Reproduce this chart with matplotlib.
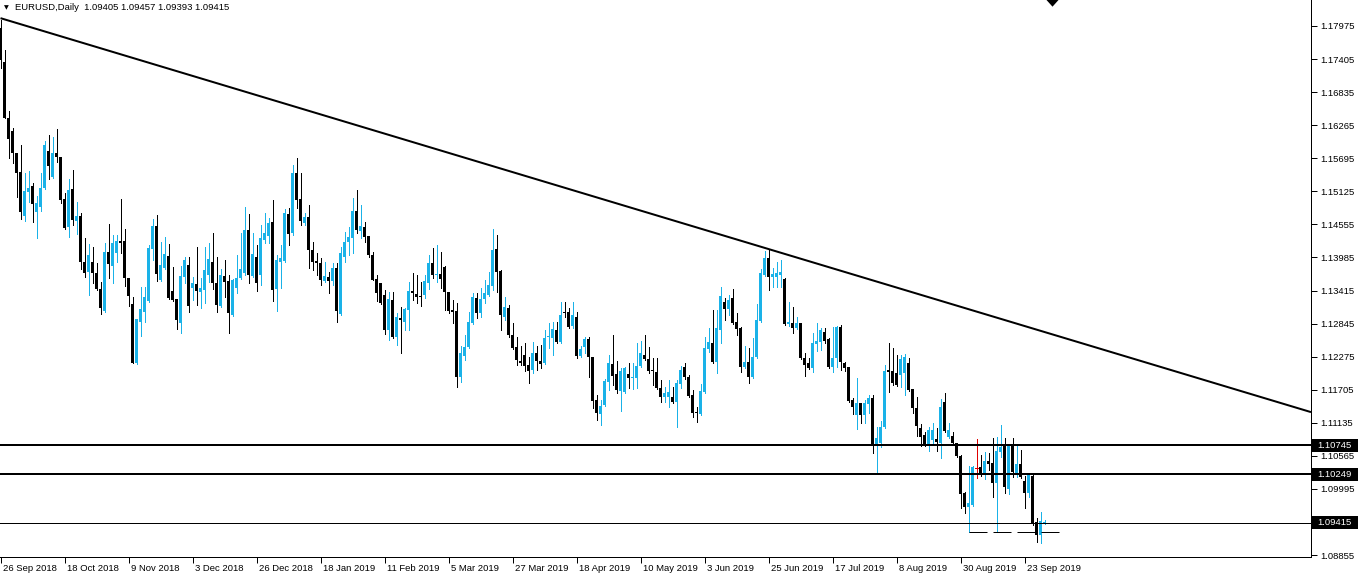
import numpy as np
import matplotlib
matplotlib.use("Agg")
import matplotlib.pyplot as plt
from matplotlib.patches import Rectangle, Polygon
import matplotlib.transforms as mtrans

# ---------------- data ----------------
symbol_title = "EURUSD,Daily"
last_ohlc = ["1.09405", "1.09457", "1.09393", "1.09415"]

opens = [
 1.1794,1.1736,1.1639,1.1616,1.1579,1.1546,1.1470,1.1511,1.1522,1.1477,
 1.1485,1.1518,1.1582,1.1537,1.1579,1.1572,1.1499,1.1451,1.1517,1.1461,
 1.1470,1.1391,1.1373,1.1391,1.1372,1.1344,1.1306,1.1408,1.1384,1.1406,
 1.1427,1.1427,1.1363,1.1318,1.1217,1.1287,1.1305,1.1323,1.1413,1.1453,
 1.1360,1.1380,1.1401,1.1341,1.1327,1.1285,1.1365,1.1385,1.1346,1.1352,
 1.1339,1.1342,1.1368,1.1391,1.1354,1.1315,1.1367,1.1358,1.1299,1.1346,
 1.1363,1.1372,1.1446,1.1367,1.1399,1.1368,1.1429,1.1435,1.1460,1.1344,
 1.1391,1.1392,1.1474,1.1440,1.1544,1.1499,1.1458,1.1468,1.1411,1.1392,
 1.1389,1.1358,1.1365,1.1358,1.1380,1.1301,1.1399,1.1425,1.1432,1.1479,
 1.1444,1.1451,1.1435,1.1403,1.1361,1.1354,1.1334,1.1273,1.1325,1.1261,
 1.1294,1.1287,1.1308,1.1341,1.1335,1.1332,1.1334,1.1354,1.1389,1.1368,
 1.1370,1.1382,1.1339,1.1308,1.1306,1.1192,1.1229,1.1244,1.1285,1.1328,
 1.1303,1.1327,1.1334,1.1349,1.1413,1.1375,1.1296,1.1311,1.1264,1.1244,
 1.1220,1.1230,1.1213,1.1204,1.1234,1.1220,1.1217,1.1261,1.1259,1.1273,
 1.1253,1.1305,1.1305,1.1280,1.1296,1.1229,1.1244,1.1258,1.1227,1.1153,
 1.1129,1.1144,1.1184,1.1215,1.1197,1.1168,1.1167,1.1197,1.1191,1.1191,
 1.1211,1.1230,1.1223,1.1204,1.1201,1.1173,1.1158,1.1158,1.1158,1.1149,
 1.1180,1.1210,1.1192,1.1161,1.1132,1.1129,1.1167,1.1241,1.1251,1.1218,
 1.1273,1.1322,1.1310,1.1329,1.1287,1.1277,1.1210,1.1218,1.1192,1.1227,
 1.1289,1.1368,1.1397,1.1365,1.1365,1.1369,1.1361,1.1284,1.1285,1.1277,
 1.1285,1.1225,1.1217,1.1208,1.1249,1.1253,1.1270,1.1258,1.1210,1.1225,
 1.1278,1.1217,1.1209,1.1153,1.1127,1.1147,1.1127,1.1146,1.1156,1.1075,
 1.1079,1.1106,1.1204,1.1203,1.1199,1.1196,1.1199,1.1217,1.1171,1.1139,
 1.1104,1.1092,1.1077,1.1084,1.1085,1.1079,1.1149,1.1089,1.1091,1.1078,
 1.1057,1.0992,1.0968,1.0972,1.1035,1.1037,1.1027,1.1048,1.1044,1.1010,
 1.1063,1.1073,1.0999,1.1073,1.1027,1.1042,1.1013,1.0992,1.1022,1.0942,
 1.0920,1.09405]

highs = [
 1.1808,1.1756,1.1651,1.1622,1.1579,1.1592,1.1544,1.1548,1.1527,1.1504,
 1.1544,1.1599,1.1610,1.1606,1.1620,1.1572,1.1510,1.1534,1.1549,1.1494,
 1.1475,1.1432,1.1422,1.1416,1.1389,1.1356,1.1423,1.1456,1.1437,1.1437,
 1.1499,1.1448,1.1363,1.1330,1.1293,1.1348,1.1348,1.1420,1.1465,1.1472,
 1.1425,1.1434,1.1422,1.1382,1.1327,1.1384,1.1399,1.1399,1.1365,1.1416,
 1.1363,1.1416,1.1423,1.1441,1.1399,1.1379,1.1394,1.1368,1.1361,1.1403,
 1.1440,1.1485,1.1474,1.1440,1.1420,1.1454,1.1475,1.1467,1.1498,1.1403,
 1.1420,1.1482,1.1484,1.1558,1.1570,1.1544,1.1475,1.1489,1.1425,1.1406,
 1.1397,1.1391,1.1373,1.1389,1.1389,1.1416,1.1442,1.1451,1.1501,1.1515,
 1.1489,1.1460,1.1435,1.1408,1.1368,1.1354,1.1342,1.1339,1.1339,1.1303,
 1.1313,1.1311,1.1356,1.1372,1.1368,1.1356,1.1368,1.1403,1.1415,1.1420,
 1.1408,1.1384,1.1339,1.1325,1.1320,1.1246,1.1264,1.1305,1.1337,1.1337,
 1.1346,1.1360,1.1373,1.1448,1.1437,1.1377,1.1330,1.1317,1.1285,1.1261,
 1.1246,1.1251,1.1227,1.1253,1.1246,1.1247,1.1273,1.1285,1.1287,1.1287,
 1.1322,1.1322,1.1311,1.1322,1.1305,1.1246,1.1261,1.1261,1.1227,1.1161,
 1.1153,1.1189,1.1230,1.1264,1.1220,1.1208,1.1210,1.1217,1.1217,1.1251,
 1.1254,1.1264,1.1244,1.1225,1.1225,1.1187,1.1175,1.1187,1.1175,1.1187,
 1.1211,1.1217,1.1196,1.1170,1.1141,1.1180,1.1261,1.1277,1.1308,1.1308,
 1.1348,1.1329,1.1334,1.1344,1.1303,1.1279,1.1246,1.1242,1.1259,1.1318,
 1.1379,1.1410,1.1411,1.1380,1.1391,1.1394,1.1363,1.1322,1.1313,1.1296,
 1.1285,1.1234,1.1225,1.1268,1.1285,1.1277,1.1277,1.1259,1.1278,1.1280,
 1.1282,1.1218,1.1210,1.1156,1.1191,1.1148,1.1153,1.1161,1.1161,1.1106,
 1.1116,1.1213,1.1251,1.1242,1.1230,1.1230,1.1232,1.1225,1.1172,1.1158,
 1.1111,1.1097,1.1106,1.1113,1.1104,1.1155,1.1165,1.1113,1.1098,1.1079,
 1.1058,1.0994,1.1039,1.1039,1.1085,1.1058,1.1063,1.1061,1.1087,1.1089,
 1.1110,1.1087,1.1076,1.1087,1.1075,1.1067,1.1022,1.1027,1.1023,1.0949,
 1.0960,1.09457]

lows = [
 1.1725,1.1639,1.1570,1.1561,1.1503,1.1465,1.1461,1.1494,1.1460,1.1432,
 1.1479,1.1517,1.1534,1.1535,1.1563,1.1492,1.1448,1.1434,1.1454,1.1439,
 1.1379,1.1365,1.1334,1.1354,1.1342,1.1301,1.1305,1.1363,1.1354,1.1391,
 1.1406,1.1349,1.1315,1.1216,1.1215,1.1263,1.1287,1.1322,1.1394,1.1358,
 1.1358,1.1379,1.1327,1.1324,1.1275,1.1269,1.1354,1.1305,1.1325,1.1317,
 1.1311,1.1320,1.1356,1.1344,1.1305,1.1313,1.1330,1.1269,1.1298,1.1337,
 1.1362,1.1368,1.1354,1.1365,1.1341,1.1351,1.1423,1.1423,1.1323,1.1306,
 1.1346,1.1391,1.1420,1.1437,1.1484,1.1454,1.1454,1.1380,1.1377,1.1368,
 1.1351,1.1356,1.1337,1.1351,1.1287,1.1299,1.1391,1.1403,1.1406,1.1440,
 1.1432,1.1425,1.1399,1.1359,1.1323,1.1319,1.1266,1.1256,1.1259,1.1247,
 1.1234,1.1273,1.1273,1.1325,1.1320,1.1315,1.1328,1.1344,1.1363,1.1356,
 1.1346,1.1308,1.1303,1.1285,1.1175,1.1184,1.1222,1.1243,1.1284,1.1294,
 1.1296,1.1320,1.1332,1.1342,1.1339,1.1273,1.1291,1.1261,1.1241,1.1213,
 1.1213,1.1203,1.1182,1.1199,1.1204,1.1208,1.1215,1.1243,1.1230,1.1251,
 1.1251,1.1296,1.1277,1.1277,1.1225,1.1227,1.1234,1.1192,1.1139,1.1118,
 1.1110,1.1143,1.1170,1.1179,1.1165,1.1134,1.1165,1.1173,1.1172,1.1173,
 1.1210,1.1222,1.1199,1.1179,1.1172,1.1149,1.1149,1.1141,1.1148,1.1106,
 1.1173,1.1189,1.1158,1.1123,1.1115,1.1127,1.1165,1.1235,1.1217,1.1199,
 1.1251,1.1291,1.1299,1.1284,1.1264,1.1201,1.1208,1.1182,1.1191,1.1226,
 1.1287,1.1367,1.1342,1.1348,1.1348,1.1348,1.1282,1.1280,1.1269,1.1275,
 1.1223,1.1194,1.1206,1.1201,1.1237,1.1239,1.1251,1.1208,1.1201,1.1210,
 1.1204,1.1203,1.1149,1.1129,1.1103,1.1113,1.1113,1.1130,1.1061,1.1027,
 1.1072,1.1104,1.1167,1.1179,1.1177,1.1175,1.1161,1.1169,1.1130,1.1091,
 1.1073,1.1074,1.1065,1.1075,1.1065,1.1053,1.1098,1.1087,1.1075,1.1054,
 1.0967,1.0958,1.0925,1.0970,1.1018,1.1022,1.1017,1.1032,1.0985,1.0925,
 1.1054,1.0992,1.0991,1.1020,1.1020,1.1018,1.0967,1.0985,1.0937,1.0908,
 1.0906,1.09393]

closes = [
 1.1739,1.1639,1.1603,1.1579,1.1544,1.1477,1.1513,1.1518,1.1491,1.1492,
 1.1518,1.1592,1.1556,1.1579,1.1572,1.1498,1.1449,1.1515,1.1463,1.1470,
 1.1391,1.1372,1.1403,1.1372,1.1344,1.1311,1.1408,1.1387,1.1423,1.1427,
 1.1423,1.1363,1.1332,1.1217,1.1292,1.1310,1.1330,1.1415,1.1453,1.1370,
 1.1385,1.1404,1.1328,1.1325,1.1291,1.1367,1.1394,1.1315,1.1354,1.1341,
 1.1346,1.1377,1.1396,1.1354,1.1317,1.1368,1.1356,1.1303,1.1360,1.1363,
 1.1379,1.1446,1.1368,1.1404,1.1354,1.1432,1.1440,1.1458,1.1342,1.1394,
 1.1397,1.1475,1.1439,1.1544,1.1498,1.1461,1.1468,1.1411,1.1391,1.1389,
 1.1360,1.1367,1.1358,1.1380,1.1306,1.1406,1.1425,1.1434,1.1479,1.1446,
 1.1453,1.1434,1.1403,1.1360,1.1337,1.1320,1.1273,1.1327,1.1261,1.1296,
 1.1291,1.1310,1.1341,1.1337,1.1330,1.1330,1.1358,1.1389,1.1368,1.1370,
 1.1361,1.1339,1.1306,1.1305,1.1192,1.1234,1.1244,1.1287,1.1330,1.1303,
 1.1327,1.1337,1.1351,1.1411,1.1373,1.1299,1.1313,1.1264,1.1243,1.1222,
 1.1217,1.1211,1.1203,1.1234,1.1220,1.1215,1.1259,1.1263,1.1275,1.1253,
 1.1299,1.1303,1.1278,1.1299,1.1229,1.1241,1.1258,1.1227,1.1151,1.1130,
 1.1143,1.1186,1.1217,1.1194,1.1170,1.1203,1.1208,1.1191,1.1192,1.1211,
 1.1234,1.1223,1.1203,1.1203,1.1173,1.1158,1.1165,1.1167,1.1149,1.1182,
 1.1204,1.1192,1.1160,1.1130,1.1130,1.1168,1.1243,1.1253,1.1218,1.1277,
 1.1332,1.1310,1.1325,1.1285,1.1275,1.1210,1.1218,1.1192,1.1227,1.1291,
 1.1372,1.1397,1.1365,1.1370,1.1372,1.1373,1.1284,1.1287,1.1277,1.1285,
 1.1225,1.1213,1.1208,1.1251,1.1254,1.1273,1.1254,1.1210,1.1225,1.1278,
 1.1218,1.1208,1.1151,1.1141,1.1148,1.1127,1.1148,1.1156,1.1075,1.1087,
 1.1106,1.1203,1.1201,1.1182,1.1179,1.1223,1.1227,1.1170,1.1139,1.1108,
 1.1089,1.1075,1.1101,1.1101,1.1080,1.1141,1.1099,1.1101,1.1079,1.1056,
 1.0991,1.0968,1.0975,1.1037,1.1035,1.1025,1.1048,1.1042,1.1010,1.1065,
 1.1072,1.1003,1.1075,1.1029,1.1042,1.1020,1.0992,1.1023,1.0941,1.0920,
 1.0944,1.09415]

date_labels = ["26 Sep 2018", "18 Oct 2018", "9 Nov 2018", "3 Dec 2018",
               "26 Dec 2018", "18 Jan 2019", "11 Feb 2019", "5 Mar 2019",
               "27 Mar 2019", "18 Apr 2019", "10 May 2019", "3 Jun 2019",
               "25 Jun 2019", "17 Jul 2019", "8 Aug 2019", "30 Aug 2019",
               "23 Sep 2019"]
bars_per_label = 16

price_ticks = [1.17975, 1.17405, 1.16835, 1.16265, 1.15695, 1.15125, 1.14555,
               1.13985, 1.13415, 1.12845, 1.12275, 1.11705, 1.11135, 1.10565,
               1.09995, 1.08855]

hlines_thick = [1.10745, 1.10249]
bid_price = 1.09415
support_level = 1.0925
support_start_bar = 242
trend_anchor_bars = [0, 192]
trend_anchor_prices = [1.1811, 1.1413]

# ---------------- style ----------------
BULL = "#1AB2E8"
BEAR = "#000000"
DOJI = "#E00000"
FONT = "Liberation Sans"

W, H = 1358, 577
fig = plt.figure(figsize=(W / 100, H / 100), dpi=100)
fig.patch.set_facecolor("white")
ax_left_px, ax_right_px, ax_bottom_px = 0, 1311, 557
ax = fig.add_axes([ax_left_px / W, (H - ax_bottom_px) / H,
                   (ax_right_px - ax_left_px) / W, ax_bottom_px / H])
ax.set_facecolor("white")

n = len(opens)
idx = np.arange(n)
o = np.array(opens); h = np.array(highs); l = np.array(lows); c = np.array(closes)

px = 1.0 / 100 * 72  # one pixel in points
colors = np.where(c > o, BULL, np.where(c < o, BEAR, DOJI))

ax.vlines(idx, l, h, colors=colors, linewidth=px, antialiased=False, zorder=2)
body_bottom = np.minimum(o, c)
body_h = np.maximum(np.abs(c - o), 0.00012)
for i in range(n):
    if colors[i] == DOJI:
        ax.hlines(o[i], i - 0.5, i + 0.25, colors=DOJI, linewidth=px,
                  antialiased=False, zorder=3)
    else:
        ax.bar(i, body_h[i], bottom=body_bottom[i], width=0.75,
               color=colors[i], linewidth=0, antialiased=False, zorder=3)

xmin = -0.125
xmax = xmin + (ax_right_px - ax_left_px) / 4.0
ax.set_xlim(xmin, xmax)
ax.set_ylim(1.08821, 1.18423)

# trendline (ray to the right)
slope = (trend_anchor_prices[1] - trend_anchor_prices[0]) / (trend_anchor_bars[1] - trend_anchor_bars[0])
tx = np.array([trend_anchor_bars[0], xmax])
ty = trend_anchor_prices[0] + slope * (tx - trend_anchor_bars[0])
ax.plot(tx, ty, color="black", linewidth=2 * px, zorder=5, solid_capstyle="butt")

for lv in hlines_thick:
    ax.axhline(lv, color="black", linewidth=2 * px, zorder=5)
ax.axhline(bid_price, color="black", linewidth=px, zorder=5)

ax.plot([support_start_bar, n + 2.8], [support_level, support_level], color="black",
        linewidth=px, dashes=(18, 6), zorder=5)

# axes frame
for s in ["left", "top"]:
    ax.spines[s].set_visible(False)
for s in ["right", "bottom"]:
    ax.spines[s].set_linewidth(px)
    ax.spines[s].set_color("black")

ax.yaxis.tick_right()
ax.set_yticks(price_ticks)
ax.set_yticklabels([f"{v:.5f}" for v in price_ticks], fontsize=6.8, family=FONT)
ax.tick_params(axis="y", length=4, width=px, pad=3, colors="black")

label_pos = [k * bars_per_label for k in range(len(date_labels))]
ax.set_xticks(label_pos)
ax.set_xticklabels([])
ax.tick_params(axis="x", length=4, width=px, colors="black")
for pos, lab in zip(label_pos, date_labels):
    ax.annotate(lab, xy=(pos, 0), xycoords=("data", "axes fraction"),
                xytext=(1.5, -8), textcoords="offset pixels" if False else "offset points",
                ha="left", va="center", fontsize=6.8, family=FONT)

# price boxes on the axis
blend = mtrans.blended_transform_factory(ax.transAxes, ax.transData)
box_w = (W - ax_right_px) / (ax_right_px - ax_left_px)
box_h = 13 * (1.18423 - 1.08821) / ax_bottom_px
for lv in hlines_thick + [bid_price]:
    ax.add_patch(Rectangle((1.0, lv - box_h / 2), box_w, box_h, transform=blend,
                           facecolor="black", edgecolor="none", clip_on=False, zorder=10))
    ax.text(1.0 + 6 / (ax_right_px - ax_left_px), lv, f"{lv:.5f}", transform=blend,
            color="white", fontsize=6.8, family=FONT, ha="left", va="center",
            clip_on=False, zorder=11)

# header
fig.text(4 / W, 1 - 8 / H, "\u25BC", fontsize=4.5, family="DejaVu Sans",
         ha="left", va="center")
fig.text(15 / W, 1 - 8 / H, symbol_title + "  " + " ".join(last_ohlc),
         fontsize=6.8, family=FONT, ha="left", va="center")

# shift marker at top
tri_x = n + 1
tri = Polygon([[tri_x - 1.5, 1.0], [tri_x + 1.5, 1.0], [tri_x, 0.988]],
              closed=True, transform=mtrans.blended_transform_factory(ax.transData, ax.transAxes),
              facecolor="black", edgecolor="none", clip_on=False, zorder=10)
ax.add_patch(tri)

fig.savefig("out.png", dpi=100)
